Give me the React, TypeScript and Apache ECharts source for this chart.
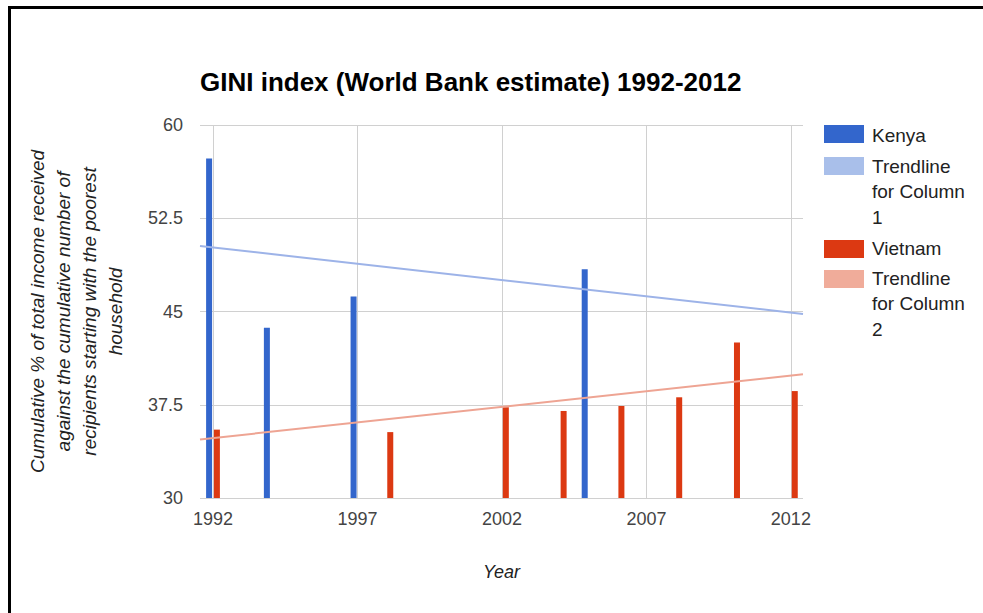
import React, { useEffect, useRef } from "react";
import * as echarts from "echarts";

const chartTitle = "GINI index (World Bank estimate) 1992-2012";
const yAxisTitle =
  "Cumulative % of total income received\nagainst the cumulative number of\nrecipients starting with the poorest\nhousehold";
const xAxisTitle = "Year";

const kenyaYears = [1992, 1994, 1997, 2005];
const kenyaValues = [57.3, 43.7, 46.2, 48.4];

const vietnamYears = [1992, 1998, 2002, 2004, 2006, 2008, 2010, 2012];
const vietnamValues = [35.5, 35.3, 37.3, 37.0, 37.4, 38.1, 42.5, 38.6];

const xMin = 1991.55;
const xMax = 2012.42;
const trendX = [xMin, xMax];
const kenyaTrend = [50.27, 44.8];
const vietnamTrend = [34.71, 39.95];

const xTickYears = [1992, 1997, 2002, 2007, 2012];

const legendNames = ["Kenya", "Trendline\nfor Column\n1", "Vietnam", "Trendline\nfor Column\n2"];
const legendColors = ["#3366CC", "#A9BFEA", "#DC3912", "#F0AC9A"];

const FONT = "'Liberation Sans', Arial, Helvetica, sans-serif";

export default function App() {
  const ref = useRef<HTMLDivElement>(null);

  useEffect(() => {
    if (!ref.current) return;
    const chart = echarts.init(ref.current, null, { renderer: "svg" });

    const legendRectTops = [125, 157, 240, 270];
    const legendTextCenters = [135, 166, 248, 278];

    const graphics: any[] = [
      { type: "rect", shape: { x: 8, y: 6, width: 975, height: 3 }, style: { fill: "#000" }, silent: true },
      { type: "rect", shape: { x: 8, y: 6, width: 3, height: 607 }, style: { fill: "#000" }, silent: true },
    ];
    legendNames.forEach((name, i) => {
      graphics.push({
        type: "rect",
        shape: { x: 824, y: legendRectTops[i], width: 40, height: 18 },
        style: { fill: legendColors[i] },
        silent: true,
      });
      graphics.push({
        type: "text",
        x: 872,
        y: legendTextCenters[i] - 12.75,
        style: {
          text: name,
          fill: "#222",
          font: `19px ${FONT}`,
          lineHeight: 25.5,
          verticalAlign: "top",
          align: "left",
        },
        silent: true,
      });
    });

    chart.setOption({
      animation: false,
      backgroundColor: "#fff",
      title: {
        text: chartTitle,
        left: 200,
        top: 69,
        padding: 0,
        textStyle: { fontFamily: FONT, fontSize: 26, fontWeight: "bold", color: "#000" },
      },
      grid: { left: 200, right: 180, top: 125, bottom: 115, containLabel: false },
      xAxis: {
        type: "value",
        min: xMin,
        max: xMax,
        name: xAxisTitle,
        nameLocation: "middle",
        nameGap: 65,
        nameTextStyle: { fontFamily: FONT, fontSize: 18, fontStyle: "italic", color: "#222" },
        axisLine: { show: false },
        axisTick: { show: false, customValues: xTickYears },
        axisLabel: {
          customValues: xTickYears,
          formatter: (v: number) => String(Math.round(v)),
          fontFamily: FONT,
          fontSize: 18,
          color: "#444",
          margin: 12,
        },
        splitLine: { show: true, lineStyle: { color: "#d0d0d0", width: 1 } },
      },
      yAxis: {
        type: "value",
        min: 30,
        max: 60,
        interval: 7.5,
        name: yAxisTitle,
        nameLocation: "middle",
        nameRotate: 90,
        nameGap: 72,
        nameTextStyle: {
          fontFamily: FONT,
          fontSize: 19,
          fontStyle: "italic",
          color: "#222",
          lineHeight: 26,
          align: "center",
        },
        axisLine: { show: false },
        axisTick: { show: false },
        axisLabel: { fontFamily: FONT, fontSize: 18, color: "#444", margin: 17 },
        splitLine: { show: true, lineStyle: { color: "#d0d0d0", width: 1 } },
      },
      graphic: graphics,
      series: [
        {
          name: "Kenya",
          type: "bar",
          barWidth: 6,
          barGap: "30%",
          itemStyle: { color: "#3366CC" },
          data: kenyaYears.map((y, i) => [y, kenyaValues[i]]),
        },
        {
          name: "Vietnam",
          type: "bar",
          barWidth: 6,
          barGap: "30%",
          itemStyle: { color: "#DC3912" },
          data: vietnamYears.map((y, i) => [y, vietnamValues[i]]),
        },
        {
          name: "Trendline for Column 1",
          type: "line",
          symbol: "none",
          lineStyle: { color: "#9DB3E8", width: 2 },
          data: trendX.map((x, i) => [x, kenyaTrend[i]]),
          z: 3,
        },
        {
          name: "Trendline for Column 2",
          type: "line",
          symbol: "none",
          lineStyle: { color: "#EEA493", width: 2 },
          data: trendX.map((x, i) => [x, vietnamTrend[i]]),
          z: 3,
        },
      ],
    });

    return () => chart.dispose();
  }, []);

  return (
    <div
      ref={ref}
      style={{ position: "fixed", left: 0, top: 0, width: 983, height: 613, background: "#fff" }}
    />
  );
}
